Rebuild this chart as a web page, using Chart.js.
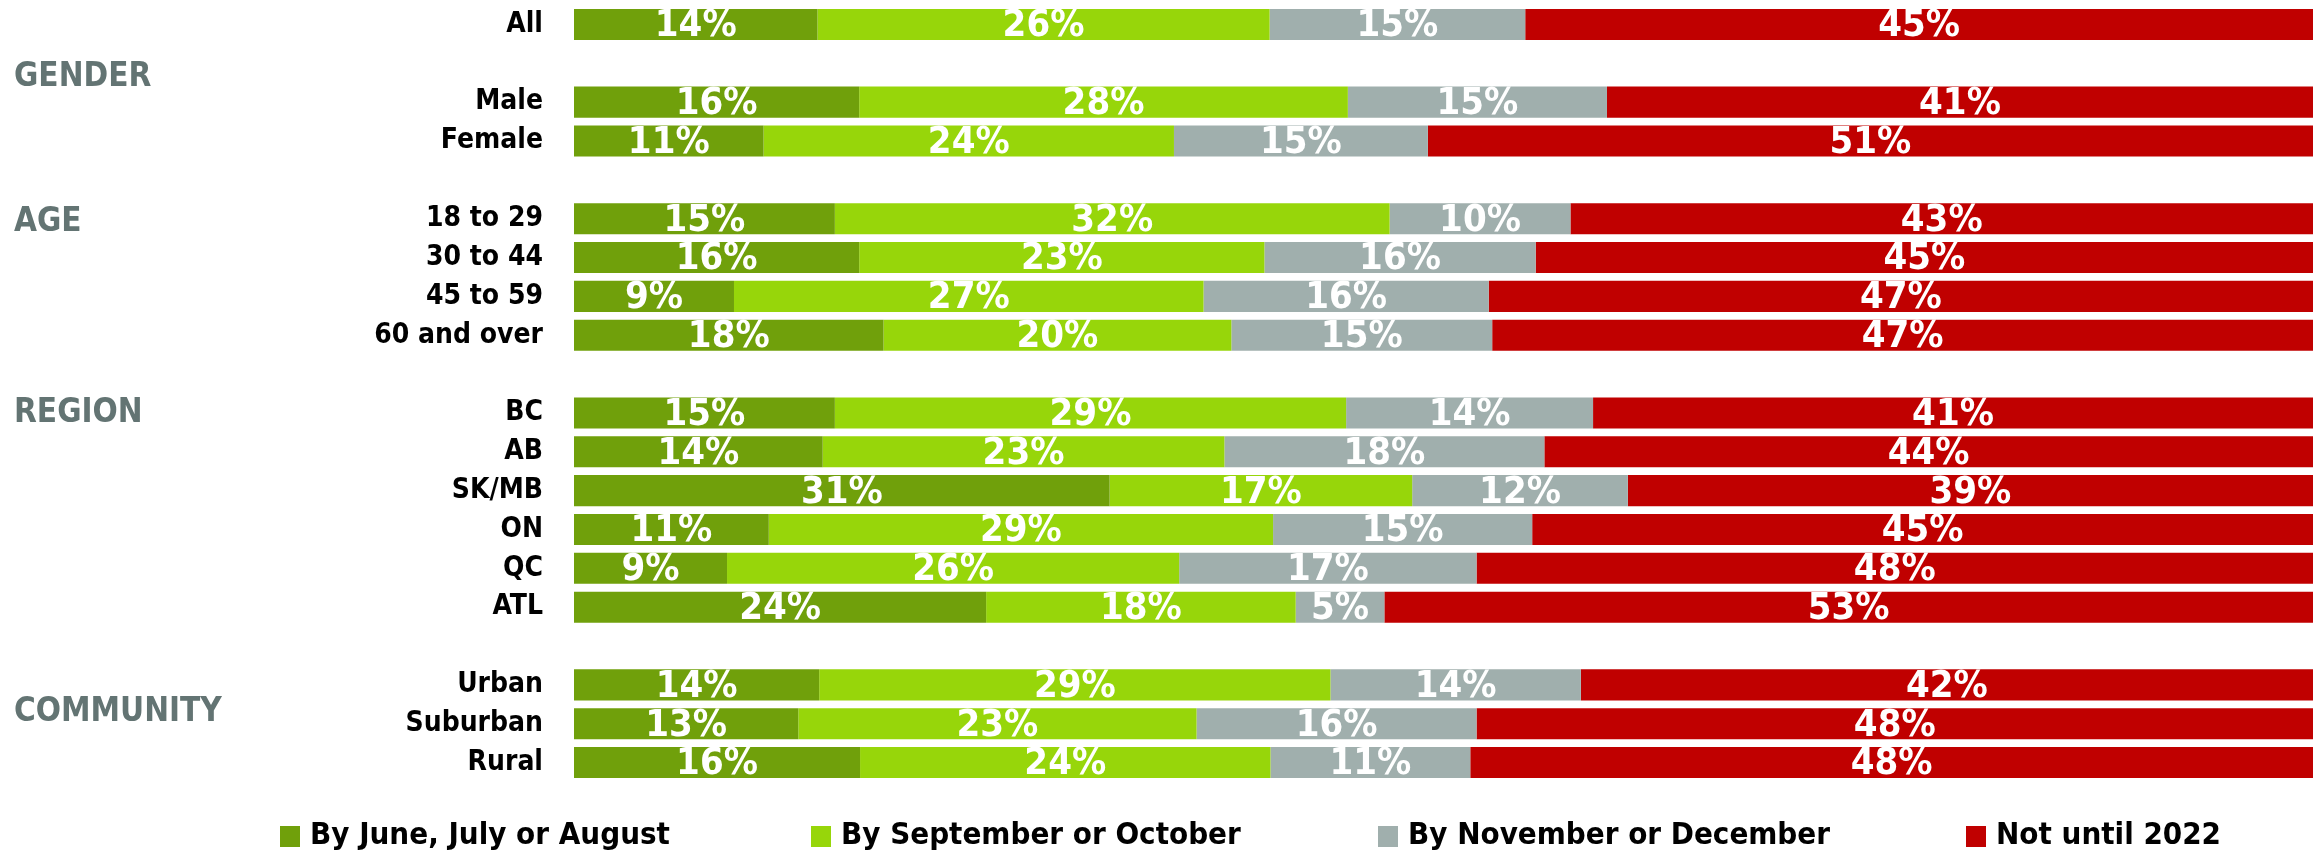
<!DOCTYPE html>
<html>
<head>
<meta charset="utf-8">
<script src="https://cdn.jsdelivr.net/npm/chart.js@4.4.1/dist/chart.umd.min.js"></script>
<style>
  html, body { margin: 0; padding: 0; background: #fff; }
  #wrap { width: 2316px; height: 851px; }
</style>
</head>
<body>
<div id="wrap"><canvas id="chart" width="2316" height="851"></canvas></div>
<script>
// rows, blank strings are the gaps between groups
const categories = ['All', '', 'Male', 'Female', '', '18 to 29', '30 to 44', '45 to 59', '60 and over', '',
    'BC', 'AB', 'SK/MB', 'ON', 'QC', 'ATL', '', 'Urban', 'Suburban', 'Rural'];

const seriesNames = ['By June, July or August', 'By September or October', 'By November or December', 'Not until 2022'];
const seriesColors = ['#70a00b', '#97d60a', '#a0afad', '#c00000'];

// values estimated from the bar segments (labels show the rounded figure)
const juneAug = [14.0, null, 16.4, 10.9, null, 15.0, 16.4, 9.2, 17.8, null, 15.0, 14.3, 30.8, 11.2, 8.8, 23.7, null, 14.1, 12.9, 16.45];
const septOct = [26.0, null, 28.1, 23.6, null, 31.9, 23.3, 27.0, 20.0, null, 29.4, 23.1, 17.4, 29.0, 26.0, 17.8, null, 29.4, 22.9, 23.6];
const novDec = [14.7, null, 14.9, 14.6, null, 10.4, 15.6, 16.4, 15.0, null, 14.2, 18.4, 12.4, 14.9, 17.1, 5.1, null, 14.4, 16.1, 11.49];
const notUntil = [45.3, null, 40.6, 50.9, null, 42.7, 44.7, 47.4, 47.2, null, 41.4, 44.2, 39.4, 44.9, 48.1, 53.4, null, 42.1, 48.1, 48.46];

// group headings and the (fractional) row they sit on
const groupNames = ['GENDER', 'AGE', 'REGION', 'COMMUNITY'];
const groupRows = [1.27, 5.0, 9.9, 17.6];

const FONT = '"DejaVu Sans Condensed", "DejaVu Sans", Arial, sans-serif';

const segmentLabels = {
    id: 'segmentLabels',
    afterDatasetsDraw(chart) {
        const ctx = chart.ctx;
        ctx.save();
        ctx.font = 'bold 38px ' + FONT;
        ctx.fillStyle = '#ffffff';
        ctx.textAlign = 'center';
        ctx.textBaseline = 'middle';
        chart.data.datasets.forEach((ds, i) => {
            const meta = chart.getDatasetMeta(i);
            meta.data.forEach((bar, j) => {
                const v = ds.data[j];
                if (v === null) return;
                ctx.fillText(Math.round(v) + '%', (bar.x + bar.base) / 2, bar.y + 2);
            });
        });
        ctx.restore();
    }
};

const groupHeadings = {
    id: 'groupHeadings',
    afterDraw(chart) {
        const ctx = chart.ctx;
        const y = chart.scales.y;
        ctx.save();
        ctx.font = 'bold 33px ' + FONT;
        ctx.fillStyle = '#637473';
        ctx.textAlign = 'left';
        ctx.textBaseline = 'middle';
        groupNames.forEach((name, i) => {
            ctx.fillText(name, 14, y.getPixelForValue(groupRows[i]) + 4);
        });
        ctx.restore();
    }
};

// legend along the bottom, columns as in the original
const legendX = [280, 811, 1378, 1966];
const bottomLegend = {
    id: 'bottomLegend',
    afterDraw(chart) {
        const ctx = chart.ctx;
        const cy = 836;
        ctx.save();
        ctx.font = 'bold 31px ' + FONT;
        ctx.textBaseline = 'middle';
        ctx.textAlign = 'left';
        chart.data.datasets.forEach((ds, i) => {
            ctx.fillStyle = ds.backgroundColor;
            ctx.fillRect(legendX[i], cy - 10, 20, 21);
            ctx.fillStyle = '#000000';
            ctx.fillText(ds.label, legendX[i] + 30, cy);
        });
        ctx.restore();
    }
};

const seriesData = [juneAug, septOct, novDec, notUntil];

new Chart(document.getElementById('chart'), {
    type: 'bar',
    data: {
        labels: categories,
        datasets: seriesData.map((d, i) => ({
            label: seriesNames[i],
            data: d,
            backgroundColor: seriesColors[i],
            borderWidth: 0,
            barPercentage: 0.8,
            categoryPercentage: 1.0
        }))
    },
    options: {
        indexAxis: 'y',
        responsive: false,
        animation: false,
        layout: { padding: { top: 5, bottom: 69, right: 3, left: 0 } },
        plugins: {
            legend: { display: false },
            tooltip: { enabled: false }
        },
        scales: {
            x: { stacked: true, min: 0, max: 100, display: false },
            y: {
                stacked: true,
                grid: { display: false, drawTicks: false },
                border: { display: false },
                afterFit(scale) {
                    scale.width = 574;
                    scale.paddingTop = 0;
                    scale.paddingBottom = 0;
                },
                ticks: {
                    padding: 31,
                    color: '#000000',
                    font: { family: FONT, size: 28, weight: 'bold' }
                }
            }
        }
    },
    plugins: [segmentLabels, groupHeadings, bottomLegend]
});
</script>
</body>
</html>
